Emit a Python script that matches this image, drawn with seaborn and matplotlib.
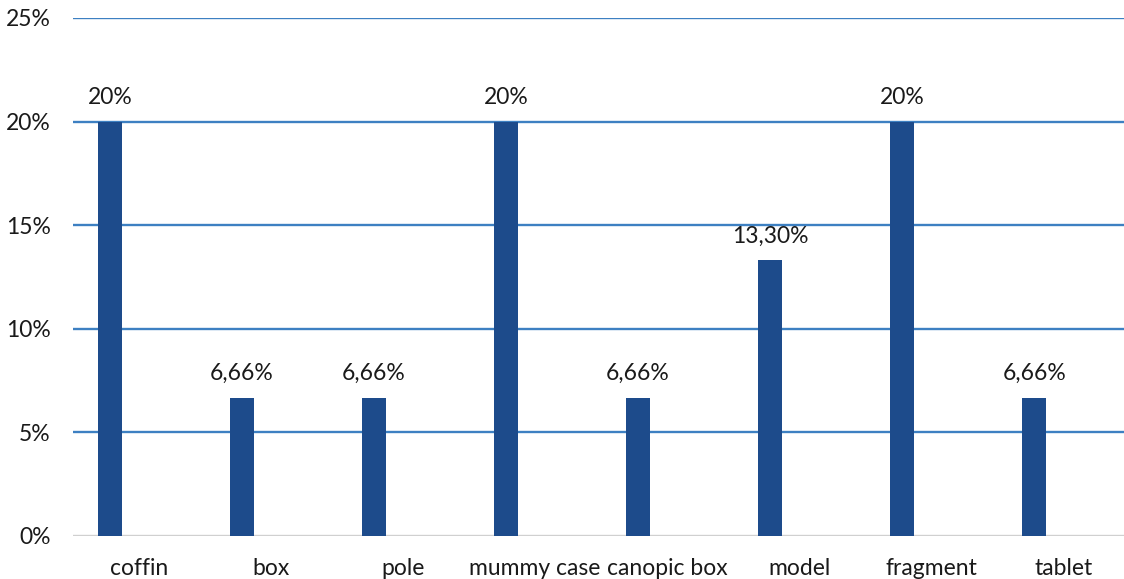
import matplotlib
matplotlib.use("Agg")
import matplotlib.pyplot as plt
import seaborn as sns
import pandas as pd

# Share of object types
categories = ["coffin", "box", "pole", "mummy case", "canopic box", "model", "fragment", "tablet"]
shares = [20, 6.66, 6.66, 20, 6.66, 13.30, 20, 6.66]
value_labels = ["20%", "6,66%", "6,66%", "20%", "6,66%", "13,30%", "20%", "6,66%"]
y_ticks = [0, 5, 10, 15, 20, 25]
y_tick_labels = ["0%", "5%", "10%", "15%", "20%", "25%"]

sns.set_theme(style="white")
plt.rcParams["font.family"] = ["Lato", "DejaVu Sans"]

BAR_COLOR = "#1d4b8b"
GRID_COLOR = "#3d80c2"
BAR_SHIFT = -0.22
FONT_SIZE = 16.5

df = pd.DataFrame({
    "pos": [i + BAR_SHIFT for i in range(len(categories))],
    "share": shares,
})

fig = plt.figure(figsize=(11.24, 5.79), dpi=100)
ax = fig.add_axes([73 / 1124, 43 / 579, (1124 - 73) / 1124, 518 / 579])

sns.barplot(data=df, x="pos", y="share", native_scale=True, width=0.18,
            color=BAR_COLOR, saturation=1, linewidth=0, ax=ax, zorder=3)

ax.set_xlim(-0.5, 7.46)
ax.set_ylim(0, 25)

for y in y_ticks[1:]:
    ax.axhline(y, color=GRID_COLOR, lw=1.7, zorder=1)
ax.axhline(0, color="#d0d0d0", lw=1.7, zorder=2)

for spine in ax.spines.values():
    spine.set_visible(False)

ax.set_yticks(y_ticks)
ax.set_yticklabels(y_tick_labels)
ax.set_xticks(range(len(categories)))
ax.set_xticklabels(categories)
ax.tick_params(axis="y", length=0, pad=16, labelsize=FONT_SIZE, labelcolor="#1a1a1a")
ax.tick_params(axis="x", length=0, pad=16, labelsize=FONT_SIZE, labelcolor="#1a1a1a")
ax.set_xlabel("")
ax.set_ylabel("")

for i, (v, lab) in enumerate(zip(shares, value_labels)):
    ax.annotate(lab, xy=(i + BAR_SHIFT, v), xytext=(0, 10), textcoords="offset points",
                ha="center", va="bottom", fontsize=FONT_SIZE, color="#1a1a1a")

fig.savefig("out.png", dpi=100)
